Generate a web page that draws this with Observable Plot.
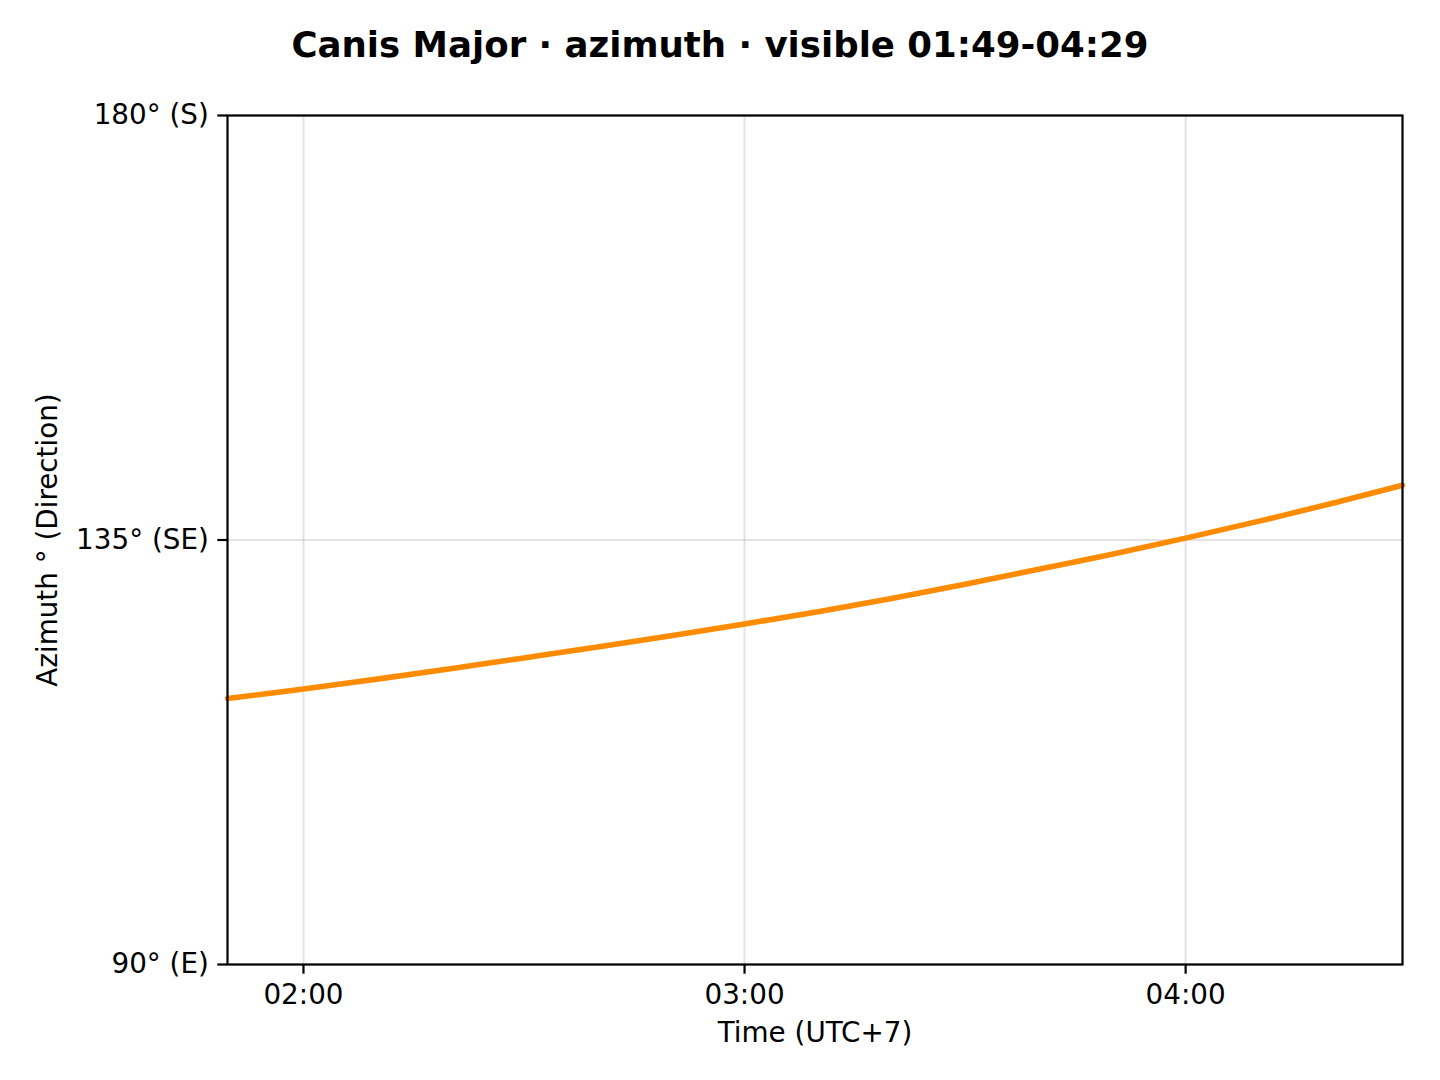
<!DOCTYPE html>
<html>
<head>
<meta charset="utf-8">
<script src="https://cdn.jsdelivr.net/npm/d3@7"></script>
<script src="https://cdn.jsdelivr.net/npm/@observablehq/plot@0.6"></script>
<style>
  html, body { margin: 0; padding: 0; background: #fff; }
  #wrap { width: 1440px; }
  #title { height: 80px; box-sizing: border-box; padding-top: 24px; line-height: 42px;
           font: bold 35.6px "DejaVu Sans", sans-serif; text-align: center; color: #000; }
</style>
</head>
<body>
<div id="wrap">
  <div id="title">Canis Major · azimuth · visible 01:49-04:29</div>
  <div id="chart"></div>
</div>
<script>
// Data (time UTC+7, azimuth degrees)
const times = ["01:49:40","02:00:00","02:10:00","02:20:00","02:30:00","02:40:00","02:50:00",
               "03:00:00","03:10:00","03:20:00","03:30:00","03:40:00","03:50:00",
               "04:00:00","04:10:00","04:20:00","04:29:30"];
const azimuth = [118.2,119.2,120.25,121.35,122.5,123.65,124.85,
                 126.1,127.4,128.8,130.3,131.9,133.5,
                 135.2,137.0,138.9,140.8];
const xTicks = ["02:00:00","03:00:00","04:00:00"];
const yTicks = [90, 135, 180];
const yTickLabels = ["90° (E)", "135° (SE)", "180° (S)"];
const xLabel = "Time (UTC+7)";
const yLabel = "Azimuth ° (Direction)";

const parse = d3.utcParse("%H:%M:%S");
const data = times.map((t, i) => ({time: parse(t), az: azimuth[i]}));
const xTickDates = xTicks.map(parse);
const yLabelMap = new Map(yTicks.map((v, i) => [v, yTickLabels[i]]));

const FS = 27.8;
const chart = Plot.plot({
  width: 1440,
  height: 1000,
  marginLeft: 227,
  marginRight: 38,
  marginTop: 35,
  marginBottom: 116,
  style: {fontFamily: "DejaVu Sans, sans-serif", fontSize: FS + "px", color: "#000", background: "#fff"},
  x: {type: "utc", domain: [data[0].time, data[data.length - 1].time]},
  y: {domain: [90, 180]},
  marks: [
    Plot.gridX(xTickDates, {stroke: "#b0b0b0", strokeOpacity: 0.35, strokeWidth: 2}),
    Plot.gridY(yTicks, {stroke: "#b0b0b0", strokeOpacity: 0.35, strokeWidth: 2}),
    Plot.line(data, {x: "time", y: "az", stroke: "#ff8c00", strokeWidth: 5.6, curve: "catmull-rom"}),
    Plot.frame({stroke: "#000", strokeWidth: 2.2}),
    Plot.axisX(xTickDates, {tickSize: 9.7, tickPadding: 10, strokeWidth: 2.2, fontSize: FS,
      tickFormat: d3.utcFormat("%H:%M"), label: null}),
    Plot.axisY(yTicks, {tickSize: 9.7, tickPadding: 9, strokeWidth: 2.2, fontSize: FS,
      tickFormat: d => yLabelMap.get(d), label: null}),
    Plot.text([xLabel], {frameAnchor: "bottom", dy: 69, lineAnchor: "middle", fontSize: FS, text: d => d}),
    Plot.text([yLabel], {frameAnchor: "left", dx: -179, rotate: -90, textAnchor: "middle", lineAnchor: "middle", fontSize: FS, text: d => d})
  ]
});
document.getElementById("chart").appendChild(chart);
</script>
</body>
</html>
